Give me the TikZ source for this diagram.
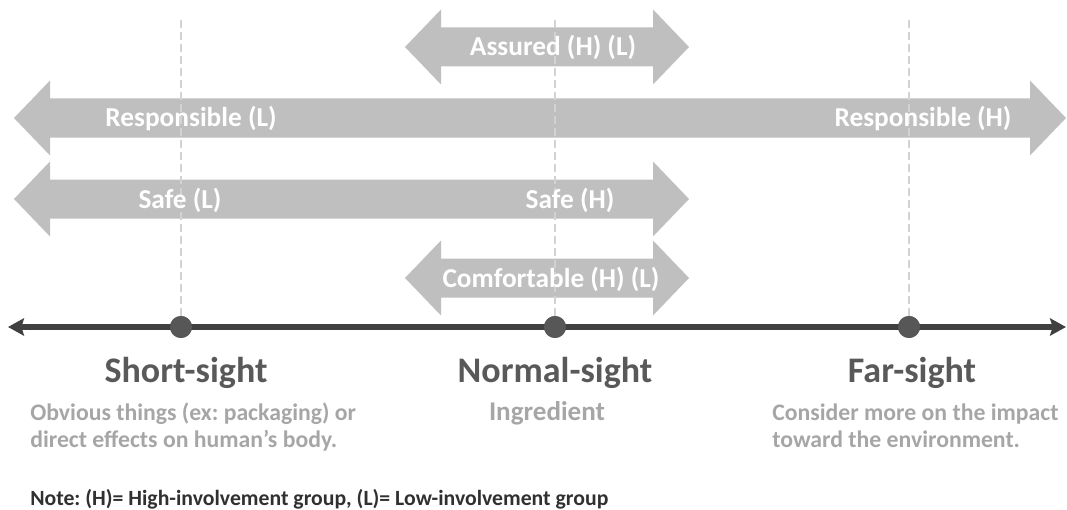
\documentclass[tikz,border=0pt]{standalone}
\usepackage{fontspec}
\setmainfont{Carlito}
\usepackage{tikz}
\usetikzlibrary{arrows.meta}
\usetikzlibrary{positioning}
\frenchspacing

\definecolor{bandgray}{HTML}{BFBFBF}
\definecolor{guidegray}{HTML}{D2D2D2}
\definecolor{axisgray}{HTML}{404040}
\definecolor{dotgray}{HTML}{575757}
\definecolor{titlegray}{HTML}{595959}
\definecolor{descgray}{HTML}{A6A6A6}
\definecolor{notegray}{HTML}{303030}

\begin{document}
\begin{tikzpicture}[x=0.75pt, y=-0.75pt,
    band/.style={fill=bandgray},
    bandtext/.style={text=white, font=\fontsize{20.5}{24}\selectfont\bfseries, inner sep=0pt, anchor=base},
    guide/.style={draw=guidegray, line width=1.2pt, dash pattern=on 6pt off 3pt},
    axisline/.style={draw=axisgray, line width=4.5pt, {Stealth[length=12pt,width=13pt,inset=2pt]}-{Stealth[length=12pt,width=13pt,inset=2pt]}},
    sightdot/.style={circle, fill=dotgray, minimum size=16.5pt, inner sep=0pt},
    sighttitle/.style={text=titlegray, font=\fontsize{27}{30}\selectfont\bfseries, inner sep=0pt, anchor=base},
    sightdesc/.style={text=descgray, font=\fontsize{17.8}{20.25}\selectfont\bfseries, inner sep=0pt, align=left, anchor=base west}]
\useasboundingbox (0,0) rectangle (1067,510);

% gray bands
\fill[band] (405,47) -- (441,9.5) -- (441,27.5) -- (653,27.5) -- (653,9.5) -- (689,47) -- (653,84.5) -- (653,66.5) -- (441,66.5) -- (441,84.5) -- cycle;
\fill[band] (14,118) -- (50,80.5) -- (50,98.5) -- (1030,98.5) -- (1030,80.5) -- (1066,118) -- (1030,155.5) -- (1030,137.5) -- (50,137.5) -- (50,155.5) -- cycle;
\fill[band] (14,199) -- (50,161.5) -- (50,179.5) -- (653,179.5) -- (653,161.5) -- (689,199) -- (653,236.5) -- (653,218.5) -- (50,218.5) -- (50,236.5) -- cycle;
\fill[band] (405,278) -- (441,240.5) -- (441,258.5) -- (653,258.5) -- (653,240.5) -- (689,278) -- (653,315.5) -- (653,297.5) -- (441,297.5) -- (441,315.5) -- cycle;

% axis and sights
\coordinate (axl) at (8,327);
\coordinate (axr) at (1066,327);
\coordinate (shorttop) at (181,20);
\coordinate (normaltop) at (555,20);
\coordinate (fartop) at (909,20);
\node[sightdot] (short) at (181,327) {};
\node[sightdot] (normal) at (555,327) {};
\node[sightdot] (far) at (909,327) {};
\draw[guide] (shorttop) -- (short);
\draw[guide] (normaltop) -- (normal);
\draw[guide] (fartop) -- (far);
\draw[axisline] (axl) -- (axr);
\node[sightdot] at (short) {};
\node[sightdot] at (normal) {};
\node[sightdot] at (far) {};

% band labels
\node[bandtext] (assured) at (553,56) {Assured (H) (L)};
\node[bandtext] (respl) at (191,127) {Responsible (L)};
\node[bandtext] (resph) at (923,127) {Responsible (H)};
\node[bandtext] (safel) at (180,208) {Safe (L)};
\node[bandtext] (safeh) at (570,208) {Safe (H)};
\node[bandtext] (comfort) at (551,287) {Comfortable (H) (L)};

% titles and descriptions
\node[sighttitle] (shorttitle) at (186,382) {Short-sight};
\node[sighttitle] (normaltitle) at (555,382) {Normal-sight};
\node[sighttitle] (fartitle) at (912,382) {Far-sight};
\node[sightdesc] (shortdesc) at (30,447) {Obvious things (ex: packaging) or\\direct effects on human’s body.};
\node[sightdesc, font=\fontsize{20.3}{24}\selectfont\bfseries, anchor=base] (normaldesc) at (547,420) {Ingredient};
\node[sightdesc] (fardesc) at (772,447) {Consider more on the impact\\toward the environment.};

\node[text=notegray, font=\fontsize{16.3}{19}\selectfont\bfseries, inner sep=0pt, anchor=base west] (note) at (30,505) {Note: (H)= High-involvement group, (L)= Low-involvement group};
\end{tikzpicture}
\end{document}
